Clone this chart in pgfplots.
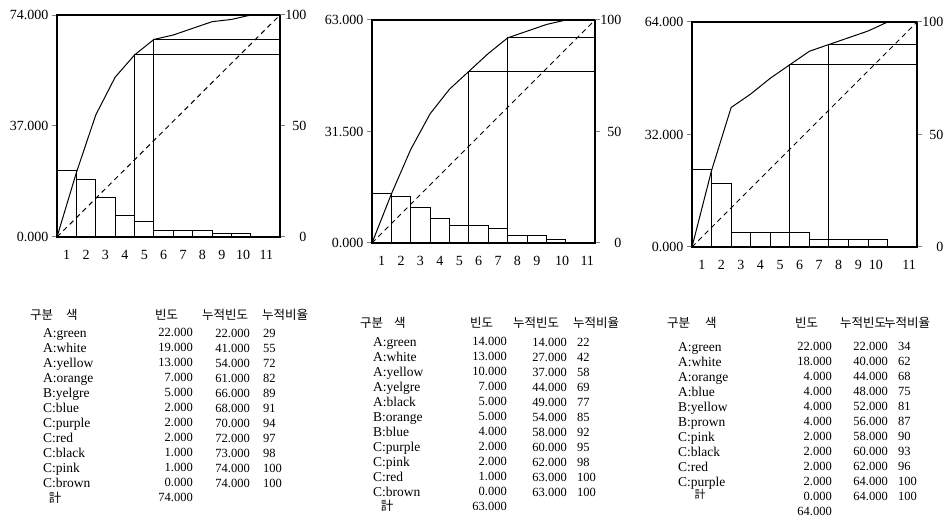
\documentclass[border=0pt]{standalone}
\usepackage{fontspec}
\setmainfont{Liberation Serif}
\newfontfamily\kr{Noto Sans CJK KR}
\usepackage{pgfplots}
\pgfplotsset{compat=1.18}

\newcommand\tf{\fontsize{12.5}{15}\selectfont}
\newcommand\nf{\fontsize{13.5}{15}\selectfont}
\newcommand\lf{\fontsize{14}{15}\selectfont}

\pgfplotsset{
  barax/.style={scale only axis, anchor=south west, xmin=0.5, xmax=12, ymin=0,
    xticklabels={1,2,3,4,5,6,7,8,9,10,11}, xtick pos=bottom, ytick pos=left, tick align=outside,
    major tick length=5pt, x tick style={draw=none},
    axis line style={line width=1.4pt}, tick style={line width=1pt},
    tick label style={font=\lf}, xticklabel style={yshift=-5pt},
    /pgf/number format/assume math mode=true,
    yticklabel style={/pgf/number format/.cd, fixed, fixed zerofill, precision=3}},
  cumax/.style={scale only axis, anchor=south west, xmin=0.5, xmax=12, ymin=0, ymax=100,
    axis x line=none, axis y line*=right, ytick={0,50,100}, tick align=outside,
    major tick length=5pt, axis line style={line width=1.4pt}, tick style={line width=1pt},
    tick label style={font=\lf}, yticklabel style={anchor=east, xshift=25pt},
    /pgf/number format/assume math mode=true},
  bars/.style={ybar, bar width=1, draw=black, fill=none, line width=1pt},
  cum/.style={black, line width=1pt},
  diag/.style={black, line width=1pt, dash pattern=on 5pt off 4pt},
  cut/.style={black, line width=1pt},
}

\begin{document}
\begin{tikzpicture}
\useasboundingbox (0,0) rectangle (948pt,519pt);

% chart 1
\begin{axis}[barax, at={(57pt,282pt)}, width=223pt, height=222pt, ymax=74, ytick={0,37,74},
  xtick={1,2,3,4,5,6,7,8,9,10.1,11.3}]
\addplot[bars] coordinates {(1,22) (2,19) (3,13) (4,7) (5,5) (6,2) (7,2) (8,2) (9,1) (10,1) (11,0)};
\end{axis}
\begin{axis}[cumax, at={(57pt,282pt)}, width=223pt, height=222pt]
\addplot[cum] coordinates {(0.5,0) (1.5,29) (2.5,55) (3.5,72) (4.5,82) (5.5,89) (6.5,91) (7.5,94) (8.5,97) (9.5,98) (10.5,100) (11.5,100) (12,100)};
\addplot[diag] coordinates {(0.5,0) (12,100)};
\addplot[cut] coordinates {(4.5,0) (4.5,82) (12,82)};
\addplot[cut] coordinates {(5.5,0) (5.5,89) (12,89)};
\end{axis}

% chart 2
\begin{axis}[barax, at={(372pt,276pt)}, width=223pt, height=223pt, ymax=63, ytick={0,31.5,63},
  xtick={1,2,3,4,5,6,7,8,9,10.3,11.6}]
\addplot[bars] coordinates {(1,14) (2,13) (3,10) (4,7) (5,5) (6,5) (7,4) (8,2) (9,2) (10,1) (11,0)};
\end{axis}
\begin{axis}[cumax, at={(372pt,276pt)}, width=223pt, height=223pt]
\addplot[cum] coordinates {(0.5,0) (1.5,22) (2.5,42) (3.5,58) (4.5,69) (5.5,77) (6.5,85) (7.5,92) (8.5,95) (9.5,98) (10.5,100) (11.5,100) (12,100)};
\addplot[diag] coordinates {(0.5,0) (12,100)};
\addplot[cut] coordinates {(5.5,0) (5.5,77) (12,77)};
\addplot[cut] coordinates {(7.5,0) (7.5,92) (12,92)};
\end{axis}

% chart 3
\begin{axis}[barax, at={(692pt,272pt)}, width=225pt, height=225pt, ymax=64, ytick={0,32,64},
  xtick={1,2,3,4,5,6,7,8,9,9.9,11.6}]
\addplot[bars] coordinates {(1,22) (2,18) (3,4) (4,4) (5,4) (6,4) (7,2) (8,2) (9,2) (10,2) (11,0)};
\end{axis}
\begin{axis}[cumax, at={(692pt,272pt)}, width=225pt, height=225pt]
\addplot[cum] coordinates {(0.5,0) (1.5,34) (2.5,62) (3.5,68) (4.5,75) (5.5,81) (6.5,87) (7.5,90) (8.5,93) (9.5,96) (10.5,100) (11.5,100) (12,100)};
\addplot[diag] coordinates {(0.5,0) (12,100)};
\addplot[cut] coordinates {(5.5,0) (5.5,81) (12,81)};
\addplot[cut] coordinates {(7.5,0) (7.5,90) (12,90)};
\end{axis}

\begin{scope}[every node/.style={inner sep=0pt, font=\tf}]
% table 1
\node[anchor=west, font=\tf\kr] at (30pt,204pt) {구분\hspace{13pt}색};
\node[anchor=west, font=\tf\kr] at (155pt,204pt) {빈도};
\node[anchor=west, font=\tf\kr] at (202pt,204pt) {누적빈도};
\node[anchor=west, font=\tf\kr] at (262pt,204pt) {누적비율};
\node[anchor=north west, align=left, font=\nf] at (43pt,191pt) {A:green\\A:white\\A:yellow\\A:orange\\B:yelgre\\C:blue\\C:purple\\C:red\\C:black\\C:pink\\C:brown};
\node[font=\tf\kr] at (55pt,21pt) {計};
\node[anchor=north east, align=right] at (193pt,191pt) {22.000\\19.000\\13.000\\7.000\\5.000\\2.000\\2.000\\2.000\\1.000\\1.000\\0.000\\74.000};
\node[anchor=north east, align=right] at (250pt,190pt) {22.000\\41.000\\54.000\\61.000\\66.000\\68.000\\70.000\\72.000\\73.000\\74.000\\74.000};
\node[anchor=north west, align=left] at (263pt,190pt) {29\\55\\72\\82\\89\\91\\94\\97\\98\\100\\100};

% table 2
\node[anchor=west, font=\tf\kr] at (360pt,196pt) {구분\hspace{11pt}색};
\node[anchor=west, font=\tf\kr] at (470pt,196pt) {빈도};
\node[anchor=west, font=\tf\kr] at (513pt,196pt) {누적빈도};
\node[anchor=west, font=\tf\kr] at (573pt,196pt) {누적비율};
\node[anchor=north west, align=left, font=\nf] at (373pt,182pt) {A:green\\A:white\\A:yellow\\A:yelgre\\A:black\\B:orange\\B:blue\\C:purple\\C:pink\\C:red\\C:brown};
\node[font=\tf\kr] at (387pt,13pt) {計};
\node[anchor=north east, align=right] at (507pt,182pt) {14.000\\13.000\\10.000\\7.000\\5.000\\5.000\\4.000\\2.000\\2.000\\1.000\\0.000\\63.000};
\node[anchor=north east, align=right] at (567pt,181pt) {14.000\\27.000\\37.000\\44.000\\49.000\\54.000\\58.000\\60.000\\62.000\\63.000\\63.000};
\node[anchor=north west, align=left] at (577pt,181pt) {22\\42\\58\\69\\77\\85\\92\\95\\98\\100\\100};

% table 3
\node[anchor=west, font=\tf\kr] at (667pt,196pt) {구분\hspace{15pt}색};
\node[anchor=west, font=\tf\kr] at (795pt,196pt) {빈도};
\node[anchor=west, font=\tf\kr] at (840pt,196pt) {누적빈도};
\node[anchor=west, font=\tf\kr] at (884pt,196pt) {누적비율};
\node[anchor=north west, align=left, font=\nf] at (678pt,177pt) {A:green\\A:white\\A:orange\\A:blue\\B:yellow\\B:prown\\C:pink\\C:black\\C:red\\C:purple};
\node[font=\fontsize{11}{12}\selectfont\kr] at (700pt,25pt) {計};
\node[anchor=north east, align=right] at (832pt,177pt) {22.000\\18.000\\4.000\\4.000\\4.000\\4.000\\2.000\\2.000\\2.000\\2.000\\0.000\\64.000};
\node[anchor=north east, align=right] at (888pt,177pt) {22.000\\40.000\\44.000\\48.000\\52.000\\56.000\\58.000\\60.000\\62.000\\64.000\\64.000};
\node[anchor=north west, align=left] at (898pt,177pt) {34\\62\\68\\75\\81\\87\\90\\93\\96\\100\\100};
\end{scope}
\end{tikzpicture}
\end{document}
